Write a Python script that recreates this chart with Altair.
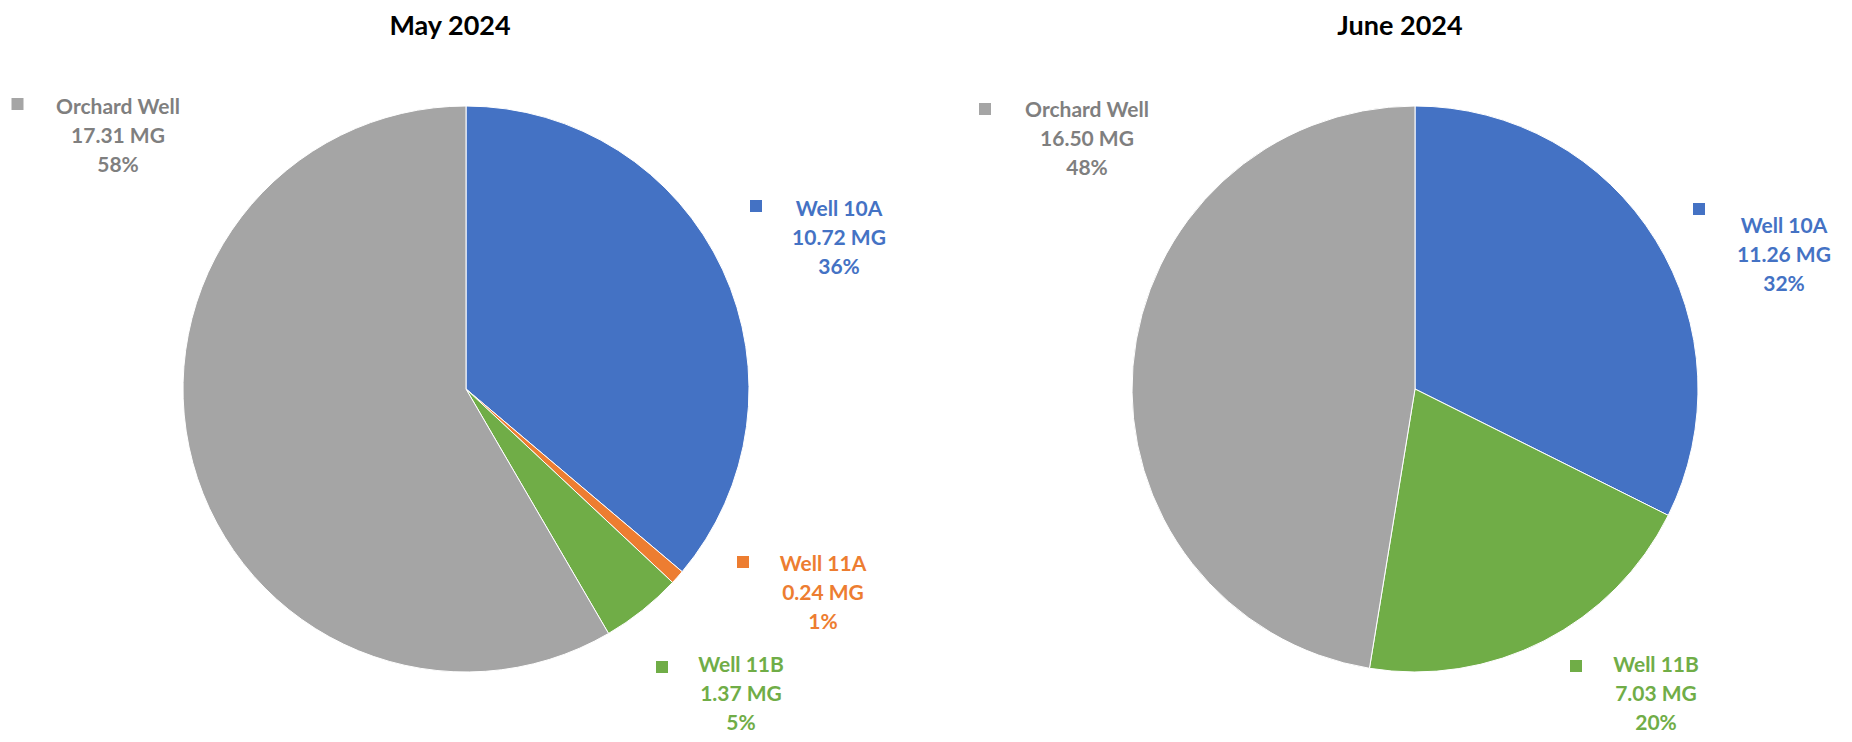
import altair as alt
import pandas as pd

# ---------------- data ----------------
names = ["Well 10A", "Well 11A", "Well 11B", "Orchard Well"]
colors = ["#4472C4", "#ED7D31", "#70AD47", "#A5A5A5"]
text_colors = ["#4472C4", "#ED7D31", "#70AD47", "#7F7F7F"]

may_names = ["Well 10A", "Well 11A", "Well 11B", "Orchard Well"]
may_mg = [10.72, 0.24, 1.37, 17.31]
may_pct = ["36%", "1%", "5%", "58%"]

june_names = ["Well 10A", "Well 11B", "Orchard Well"]
june_mg = [11.26, 7.03, 16.50]
june_pct = ["32%", "20%", "48%"]

months = ["May 2024", "June 2024"]

# ---------------- layout (page pixels) ----------------
OFF = 8
pie_center = {"May 2024": (466, 389), "June 2024": (1415, 389)}
RADIUS = 283
title_pos = {"May 2024": (450, 35), "June 2024": (1400, 35)}  # baseline
# text center x, first line center y, marker x, marker y
label_pos = {
    ("May 2024", "Well 10A"): (839, 208, 756, 206),
    ("May 2024", "Well 11A"): (823, 563, 743, 562),
    ("May 2024", "Well 11B"): (741, 664, 662, 667),
    ("May 2024", "Orchard Well"): (118, 106, 17.5, 104),
    ("June 2024", "Well 10A"): (1784, 225, 1699, 209),
    ("June 2024", "Well 11B"): (1656, 664, 1576, 666),
    ("June 2024", "Orchard Well"): (1087, 109, 985, 109),
}
LINE = 29
CAP_HALF = 7.5
FONT = "Lato"

rows = []
for month, nms, mgs, pcts in [("May 2024", may_names, may_mg, may_pct),
                              ("June 2024", june_names, june_mg, june_pct)]:
    for n, v, p in zip(nms, mgs, pcts):
        tx, ty, mx, my = label_pos[(month, n)]
        rows.append({
            "month": month, "name": n, "mg": v, "idx": names.index(n),
            "mg_label": f"{v:.2f} MG", "pct": p,
            "tcolor": text_colors[names.index(n)],
            "tx": tx - OFF, "ty": ty + CAP_HALF - OFF, "mx": mx - OFF, "my": my - OFF,
        })
df = pd.DataFrame(rows)

color_scale = alt.Scale(domain=names, range=colors)

base = alt.Chart(df)

arcs = []
for m in months:
    cx, cy = pie_center[m]
    arcs.append(
        base.transform_filter(alt.datum.month == m)
        .mark_arc(outerRadius=RADIUS, stroke="white", strokeWidth=1)
        .encode(
            theta=alt.Theta("mg:Q", stack=True),
            color=alt.Color("name:N", scale=color_scale, legend=None),
            order=alt.Order("idx:Q", sort="ascending"),
            x=alt.value(cx - OFF),
            y=alt.value(cy - OFF),
        )
    )

txt_enc = dict(
    x=alt.X("tx:Q", scale=None, axis=None),
    y=alt.Y("ty:Q", scale=None, axis=None),
    color=alt.Color("tcolor:N", scale=None, legend=None),
)
name_txt = base.mark_text(font=FONT, fontSize=21, fontWeight="bold", align="center",
                          baseline="alphabetic").encode(text="name:N", **txt_enc)
mg_txt = base.mark_text(font=FONT, fontSize=21, fontWeight="bold", align="center",
                        baseline="alphabetic", dy=LINE).encode(text="mg_label:N", **txt_enc)
pct_txt = base.mark_text(font=FONT, fontSize=21, fontWeight="bold", align="center",
                         baseline="alphabetic", dy=2 * LINE).encode(text="pct:N", **txt_enc)

markers = base.mark_square(size=144, opacity=1).encode(
    x=alt.X("mx:Q", scale=None, axis=None),
    y=alt.Y("my:Q", scale=None, axis=None),
    color=alt.Color("name:N", scale=color_scale, legend=None),
)

title_df = pd.DataFrame({
    "title": months,
    "x": [title_pos[m][0] - OFF for m in months],
    "y": [title_pos[m][1] - OFF for m in months],
})
titles = alt.Chart(title_df).mark_text(
    font=FONT, fontSize=27, fontWeight="bold", color="black", align="center",
    baseline="alphabetic"
).encode(
    x=alt.X("x:Q", scale=None, axis=None),
    y=alt.Y("y:Q", scale=None, axis=None),
    text="title:N",
)

chart = alt.layer(*arcs, markers, name_txt, mg_txt, pct_txt, titles).resolve_scale(
    theta="independent"
).properties(
    width=1836, height=726, padding=0,
    autosize=alt.AutoSizeParams(type="none"),
).configure_view(stroke=None)

chart.save("out.html", embed_options={"renderer": "svg", "actions": False})
